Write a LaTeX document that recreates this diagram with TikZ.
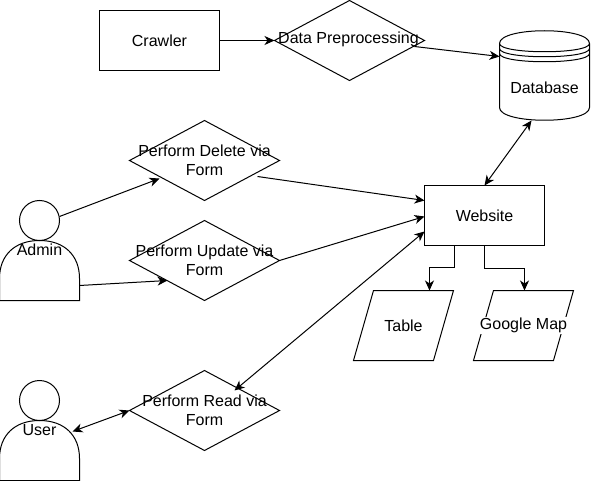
\documentclass[tikz,border=0pt]{standalone}
\usepackage{fontspec}
\setmainfont{Liberation Sans}
\usetikzlibrary{arrows.meta,shapes.geometric}
\tikzset{
  base/.style={inner sep=0pt,outer sep=0pt,align=center,font=\fontsize{16}{18.8}\selectfont,text=black},
  boxnode/.style={base,draw,rectangle,line width=1pt},
  decision/.style={base,draw,diamond,aspect=1.875,minimum width=150pt,minimum height=80pt,line width=1pt},
  plainlabel/.style={base},
  backlabel/.style={base,fill=white,inner sep=1pt},
  link/.style={line width=1pt,-{Stealth[length=10pt,width=9pt,inset=3pt]}},
  twoway/.style={line width=1pt,{Stealth[length=10pt,width=9pt,inset=3pt]}-{Stealth[length=10pt,width=9pt,inset=3pt]}},
  outline/.style={line width=1pt}
}
\newcommand{\actorshape}[1]{%
  \draw[outline,shift={(#1.north west)}] (40,20) circle[radius=20];
  \draw[outline,shift={(#1.north west)}] (0,100) -- (0,78) .. controls (0,55) and (15,40) .. (40,40)
    .. controls (65,40) and (80,55) .. (80,78) -- (80,100) -- cycle;
}
\begin{document}
\begin{tikzpicture}[x=1pt,y=-1pt]
\useasboundingbox[fill=white] (0.5,-0.5) rectangle (591.5,480.5);

\node[boxnode,minimum width=120pt,minimum height=60pt] (crawler) at (160,40) {Crawler};
\node[decision] (prep) at (350,40) {};
\node[plainlabel] (preptext) at (349,39) {Data Preprocessing};

\node[base,minimum width=90pt,minimum height=90pt] (db) at (545,75) {};
\draw[outline,shift={(db.north west)}] (0,13) .. controls (0,-4) and (90,-4) .. (90,13)
  -- (90,77) .. controls (90,94) and (0,94) .. (0,77) -- cycle;
\draw[outline,shift={(db.north west)}] (0,13) .. controls (0,24) and (90,24) .. (90,13);
\draw[outline,shift={(db.north west)}] (0,18) .. controls (0,29) and (90,29) .. (90,18);
\draw[outline,shift={(db.north west)}] (0,23) .. controls (0,34) and (90,34) .. (90,23);
\node[plainlabel] (dbtext) at (545,87) {Database};

\node[boxnode,minimum width=120pt,minimum height=60pt] (web) at (485,215) {Website};

\node[decision] (del) at (205,160) {};
\node[plainlabel] (deltext) at (205,160) {Perform Delete via\\Form};
\node[decision] (upd) at (205,260) {};
\node[plainlabel] (updtext) at (205,260) {Perform Update via\\Form};
\node[decision] (read) at (205,410) {};
\node[plainlabel] (readtext) at (205,410) {Perform Read via\\Form};

\node[base,minimum width=80pt,minimum height=100pt] (admin) at (40,250) {};
\actorshape{admin}
\node[plainlabel] (admintext) at (40,249) {Admin};
\node[base,minimum width=80pt,minimum height=100pt] (user) at (40,430) {};
\actorshape{user}
\node[plainlabel] (usertext) at (40,430) {User};

\draw[outline] (374,290) -- (454,290) -- (434,360) -- (354,360) -- cycle;
\node[backlabel] (tbl) at (404,325) {Table};
\coordinate (tbltop) at (430,290);
\draw[outline] (494,290) -- (574,290) -- (554,360) -- (474,360) -- cycle;
\node[backlabel] (gmap) at (524,325) {Google Map};
\coordinate (gmaptop) at (525,290);

\draw[link] (crawler.east) -- (prep.west);
\draw[link] ([shift={(-10,6)}]prep.east) -- ([shift={(0,-19)}]db.west);
\draw[twoway] ([shift={(-13,0)}]db.south) -- (web.north);
\draw[link] ([shift={(60,16)}]admin.north west) -- ([shift={(30,18)}]del.west);
\draw[link] ([shift={(-22,16)}]del.east) -- ([shift={(0,-15)}]web.west);
\draw[link] (upd.east) -- ([shift={(0,1)}]web.west);
\draw[link] ([shift={(0,-15)}]admin.south east) -- ([shift={(38,20)}]upd.west);
\draw[twoway] ([shift={(0,-14)}]web.south west) -- ([shift={(30,-20)}]read.center);
\draw[twoway] ([shift={(73,51)}]user.north west) -- (read.west);
\draw[link] ([shift={(-30,0)}]web.south) -- ++(0,22) -| (tbltop);
\draw[link] (web.south) -- ++(0,23) -| (gmaptop);
\end{tikzpicture}
\end{document}
